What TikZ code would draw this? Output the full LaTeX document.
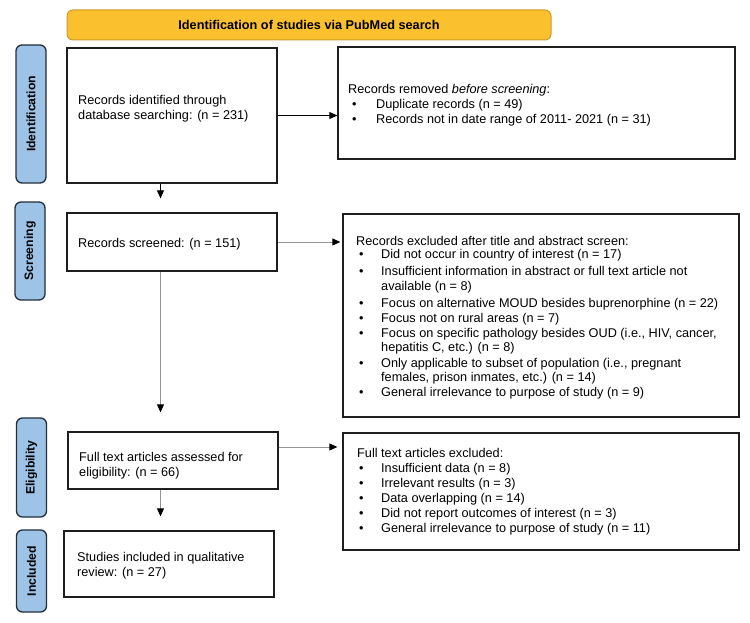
\documentclass[tikz,border=0pt]{standalone}
\usepackage{fontspec}
\setmainfont{Liberation Sans}
\usetikzlibrary{arrows.meta}
\definecolor{hdrfill}{RGB}{251,192,45}
\definecolor{hdrdraw}{RGB}{205,155,40}
\definecolor{labfill}{RGB}{157,195,230}
\definecolor{labdraw}{RGB}{35,45,60}
\definecolor{boxdraw}{RGB}{30,30,30}
\definecolor{linegray}{RGB}{150,150,150}
\tikzset{
  box/.style={draw=boxdraw, line width=1.3pt, fill=white, inner sep=0pt},
  hdr/.style={draw=hdrdraw, line width=1pt, fill=hdrfill, rounded corners=6pt, inner sep=0pt,
    font=\fontsize{12.7}{14}\selectfont\bfseries},
  lab/.style={draw=labdraw, line width=1.3pt, fill=labfill, rounded corners=6pt, inner sep=0pt,
    minimum width=30pt},
  labtxt/.style={rotate=90, font=\fontsize{12.2}{14}\selectfont\bfseries, inner sep=0pt},
  txt/.style={anchor=base west, inner sep=0pt, font=\fontsize{12.7}{15}\selectfont},
  arr/.style={line width=0.9pt, -{Triangle[length=8pt,width=7pt]}},
  garr/.style={draw=linegray, line width=0.9pt, -{Triangle[length=8pt,width=7pt,color=black]}},
}
\begin{document}
\begin{tikzpicture}[x=1pt,y=-1pt]
\useasboundingbox (0,0) rectangle (750,623);
% header
\node[hdr, minimum width=484pt, minimum height=30pt] (hdr) at (309,25) {Identification of studies via PubMed search};
% side labels
\node[lab, minimum height=138pt] (L1) at (31,114) {};
\node[labtxt] (L1t) at (L1.center) {Identification};
\node[lab, minimum height=98pt] (L2) at (30,251) {};
\node[labtxt] (L2t) at (L2.center) {Screening};
\node[lab, minimum height=99pt] (L3) at (31.5,467.5) {};
\node[labtxt] (L3t) at (L3.center) {Eligibility};
\node[lab, minimum height=82pt] (L4) at (31.5,571) {};
\node[labtxt] (L4t) at (L4.center) {Included};
% boxes
\node[box, minimum width=210pt, minimum height=135pt] (b1) at (172,115.5) {};
\node[box, minimum width=397pt, minimum height=112pt] (b2) at (536.5,103) {};
\node[box, minimum width=210pt, minimum height=58pt] (b3) at (172,242) {};
\node[box, minimum width=396pt, minimum height=203pt] (b4) at (541,315.5) {};
\node[box, minimum width=210pt, minimum height=57pt] (b5) at (173,460.5) {};
\node[box, minimum width=396pt, minimum height=117pt] (b6) at (541,491.5) {};
\node[box, minimum width=210pt, minimum height=66pt] (b7) at (169,564) {};
% texts b1
\node[txt] (t11) at (78,104.5) {Records identified through};
\node[txt] (t12) at (78,119.5) {database searching: (n = 231)};
% texts b2
\node[txt] (t21) at (348,94) {Records removed \textit{before screening}:};
\node[txt] (t22) at (352,109) {\textbullet};
\node[txt] (t23) at (376,109) {Duplicate records (n = 49)};
\node[txt] (t24) at (352,124) {\textbullet};
\node[txt] (t25) at (376,124) {Records not in date range of 2011- 2021 (n = 31)};
% texts b3
\node[txt] (t31) at (78,247) {Records screened: (n = 151)};
% texts b4
\node[txt] (t41) at (356,245.2) {Records excluded after title and abstract screen:};
\node[txt] (t42a) at (359,258.8) {\textbullet};
\node[txt] (t42) at (381,258.8) {Did not occur in country of interest (n = 17)};
\node[txt] (t43a) at (359,275.5) {\textbullet};
\node[txt] (t43) at (381,275.5) {Insufficient information in abstract or full text article not};
\node[txt] (t44) at (381,290.2) {available (n = 8)};
\node[txt] (t45a) at (359,307.2) {\textbullet};
\node[txt] (t45) at (381,307.2) {Focus on alternative MOUD besides buprenorphine (n = 22)};
\node[txt] (t46a) at (359,322.8) {\textbullet};
\node[txt] (t46) at (381,322.8) {Focus not on rural areas (n = 7)};
\node[txt] (t47a) at (359,337.8) {\textbullet};
\node[txt] (t47) at (381,337.8) {Focus on specific pathology besides OUD (i.e., HIV, cancer,};
\node[txt] (t48) at (381,351.8) {hepatitis C, etc.) (n = 8)};
\node[txt] (t49a) at (359,367.2) {\textbullet};
\node[txt] (t49) at (381,367.2) {Only applicable to subset of population (i.e., pregnant};
\node[txt] (t410) at (381,381.2) {females, prison inmates, etc.) (n = 14)};
\node[txt] (t411a) at (359,396.8) {\textbullet};
\node[txt] (t411) at (381,396.8) {General irrelevance to purpose of study (n = 9)};
% texts b5
\node[txt] (t51) at (79,461.5) {Full text articles assessed for};
\node[txt] (t52) at (79,476.5) {eligibility: (n = 66)};
% texts b6
\node[txt] (t61) at (357,457.5) {Full text articles excluded:};
\node[txt] (t62a) at (359,472.5) {\textbullet};
\node[txt] (t62) at (381,472.5) {Insufficient data (n = 8)};
\node[txt] (t63a) at (359,487.5) {\textbullet};
\node[txt] (t63) at (381,487.5) {Irrelevant results (n = 3)};
\node[txt] (t64a) at (359,502.5) {\textbullet};
\node[txt] (t64) at (381,502.5) {Data overlapping (n = 14)};
\node[txt] (t65a) at (359,517.5) {\textbullet};
\node[txt] (t65) at (381,517.5) {Did not report outcomes of interest (n = 3)};
\node[txt] (t66a) at (359,532.5) {\textbullet};
\node[txt] (t66) at (381,532.5) {General irrelevance to purpose of study (n = 11)};
% texts b7
\node[txt] (t71) at (77,561.5) {Studies included in qualitative};
\node[txt] (t72) at (77,576.5) {review: (n = 27)};
% connectors
\coordinate (cx) at (160.5,0);
\coordinate (cy5) at (0,447);
\draw[arr] (b1.east) -- (b2.west |- b1.east);
\draw[arr, shorten >=14pt] (b1.south -| cx) -- (b3.north -| cx);
\draw[garr, shorten >=2pt] (b3.east) -- (b4.west |- b3.east);
\draw[garr, shorten >=19pt] (b3.south -| cx) -- (b5.north -| cx);
\draw[garr, shorten >=5pt] (b5.east |- cy5) -- (b6.west |- cy5);
\draw[garr, shorten >=14pt] (b5.south -| cx) -- (b7.north -| cx);
\end{tikzpicture}
\end{document}
